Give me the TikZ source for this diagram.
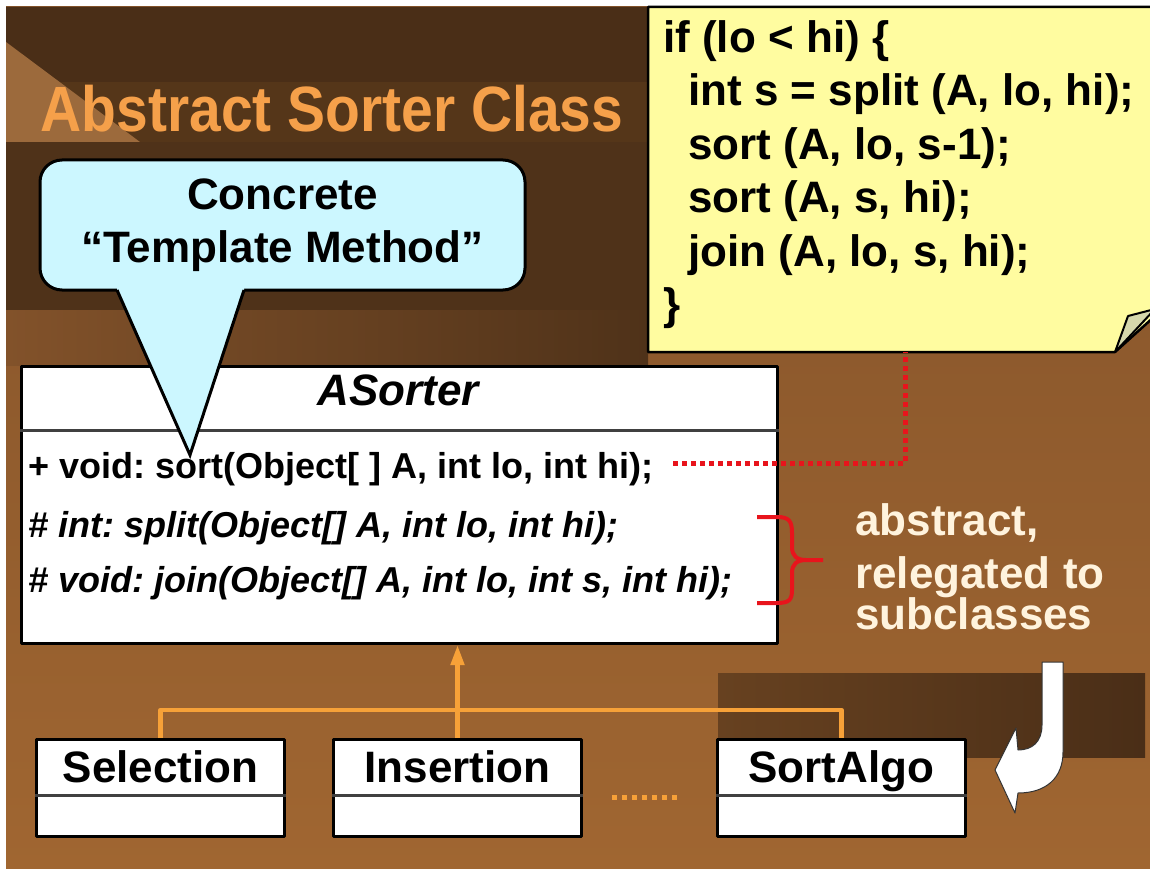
\documentclass[tikz,border=0pt]{standalone}
\usepackage{graphicx}
\usepackage{fontspec}
\setmainfont{Liberation Sans}
\usetikzlibrary{positioning, arrows.meta}
\frenchspacing

\definecolor{topbrown}{HTML}{4A2E17}
\definecolor{bandbrown}{HTML}{553619}
\definecolor{wedgetan}{HTML}{9C6A3C}
\definecolor{blockbrown}{HTML}{4F3219}
\definecolor{bgtop}{HTML}{82522A}
\definecolor{bgbottom}{HTML}{A06631}
\definecolor{titleorange}{HTML}{F5A04A}
\definecolor{noteyellow}{HTML}{FFFCA0}
\definecolor{foldgreen}{HTML}{D6D8AC}
\definecolor{calloutcyan}{HTML}{CCF7FF}
\definecolor{linkorange}{HTML}{F7A138}
\definecolor{bracered}{HTML}{E8141C}
\definecolor{creamtext}{HTML}{FFF3DD}

\begin{document}
\begin{tikzpicture}[x=1pt, y=-1pt, line join=round,
	classbox/.style={draw=black, line width=3pt, fill=white, inner sep=0pt},
	subbox/.style={classbox, minimum width=248pt, minimum height=97pt, anchor=north west},
	bigtext/.style={font=\fontsize{44}{53.5}\selectfont\bfseries, inner sep=0pt},
	methodtext/.style={font=\fontsize{36}{40}\selectfont\bfseries, inner sep=0pt, anchor=base west},
	callout/.style={draw=black, line width=3pt, fill=calloutcyan, rounded corners=22pt, minimum width=485pt, minimum height=130pt, inner sep=0pt},
	inherit/.style={draw=linkorange, line width=4.5pt},
	reddots/.style={draw=bracered, line width=5pt, dash pattern=on 5pt off 4pt},
	divider/.style={draw=black!75, line width=3pt}]

	% slide background
	\useasboundingbox (0,0) rectangle (1150,869);
	\fill[white] (0,0) rectangle (1150,869);
	\shade[top color=bgtop, bottom color=bgbottom] (6,7) rectangle (1150,869);
	\fill[topbrown] (6,7) rectangle (1150,82);
	\fill[bandbrown] (6,82) rectangle (1150,142);
	\fill[wedgetan] (6,42) -- (140,142) -- (6,142) -- cycle;
	\fill[blockbrown] (6,142) rectangle (648,310);
	\shade[left color=bgtop, right color=blockbrown] (6,310) rectangle (648,365);
	\shade[left color=bandbrown!60!bgtop, right color=topbrown] (718,673) rectangle (1145,757);

	\node[font=\fontsize{64}{70}\selectfont\bfseries, text=titleorange, inner sep=0pt, anchor=base] (title) at (332,132) {\scalebox{0.89}[1]{Abstract Sorter Class}};

	% note with the template method body
	\filldraw[fill=noteyellow, draw=black, line width=2.5pt] (648,7) -- (1155,7) -- (1155,316) -- (1115,352) -- (648,352) -- cycle;
	\filldraw[fill=foldgreen, draw=black, line width=2pt] (1115,352) -- (1128,316) -- (1155,309) -- cycle;
	\coordinate (notefoot) at (905,352);
	\node[bigtext, anchor=north west, align=left] (code) at (663,20)
		{if (lo < hi) \{\\
		\hspace*{25pt}int s = split (A, lo, hi);\\
		\hspace*{25pt}sort (A, lo, s-1);\\
		\hspace*{25pt}sort (A, s, hi);\\
		\hspace*{25pt}join (A, lo, s, hi);\\
		\}};

	% abstract class
	\node[classbox, minimum width=756pt, minimum height=277pt, anchor=north west] (asorter) at (20,365) {};
	\draw[divider] ([yshift=-65pt]asorter.north west) -- ([yshift=-65pt]asorter.north east);
	\node[bigtext, anchor=base] (aname) at (398,405) {\itshape ASorter};
	\node[methodtext] (msort)  at (28,478) {+ void: sort(Object[ ] A, int lo, int hi);};
	\node[methodtext] (msplit) at (28,537) {\itshape \# int: split(Object[] A, int lo, int hi);};
	\node[methodtext] (mjoin)  at (28,592) {\itshape \# void: join(Object[] A, int lo, int s, int hi);};

	% callout
	\node[callout, bigtext, align=center] (tmpl) at (282.5,225) {Concrete\\``Template Method''};
	\coordinate (tip) at (190,455);
	\fill[calloutcyan] (117,290) -- (tip) -- (244,290) -- (244,286) -- (117,286) -- cycle;
	\draw[line width=3pt, line join=miter] (117,290) -- (tip) -- (244,290);

	% sort() expands to the note
	\coordinate (sortend) at (673,463);
	\draw[reddots] (sortend) -| (notefoot);

	% brace on the abstract methods
	\draw[bracered, line width=4pt, line cap=butt]
		(757,517) -- (777,517) .. controls (789,517) and (792,521) .. (792,533) -- (792,547)
		.. controls (792,556) and (797,560) .. (806,560) -- (823,560)
		(806,560) .. controls (797,560) and (792,564) .. (792,573) -- (792,590)
		.. controls (792,600) and (789,603) .. (777,603) -- (757,603);
	\node[bigtext, text=creamtext, anchor=north west, align=left] (note) at (855,503)
		{abstract,\\relegated to\\[-13pt]subclasses};

	% subclasses
	\node[subbox] (sel) at (35,738) {};
	\node[subbox, right=46pt of sel] (ins) {};
	\node[subbox, right=133pt of ins] (algo) {};
	\node[bigtext, anchor=base] (selname) at ([yshift=-44pt]sel.north) {Selection};
	\node[bigtext, anchor=base] (insname) at ([yshift=-44pt]ins.north) {Insertion};
	\node[bigtext, anchor=base] (algoname) at ([yshift=-44pt]algo.north) {SortAlgo};
	\draw[divider] ([yshift=-57pt]sel.north west) -- ([yshift=-57pt]sel.north east);
	\draw[divider] ([yshift=-57pt]ins.north west) -- ([yshift=-57pt]ins.north east);
	\draw[divider] ([yshift=-57pt]algo.north west) -- ([yshift=-57pt]algo.north east);

	\coordinate (bus) at (458,710);
	\draw[inherit] (sel.north) |- (algo.north |- bus) -- (algo.north);
	\draw[inherit, -{Triangle[length=20pt, width=13pt]}] (ins.north) -- (ins.north |- asorter.south);
	\draw[linkorange, line width=5pt, dash pattern=on 5pt off 5pt] (612,797) -- (680,797);

	% curved arrow pointing at the subclasses
	\filldraw[fill=white, draw=black!80, line width=1pt] (1042,662) -- (1063,662) -- (1063,752)
		.. controls (1063,778) and (1046,793) .. (1018,793) -- (1015,813) -- (995,770) -- (1016,728)
		-- (1018,750) .. controls (1032,750) and (1042,742) .. (1042,725) -- cycle;
\end{tikzpicture}
\end{document}
